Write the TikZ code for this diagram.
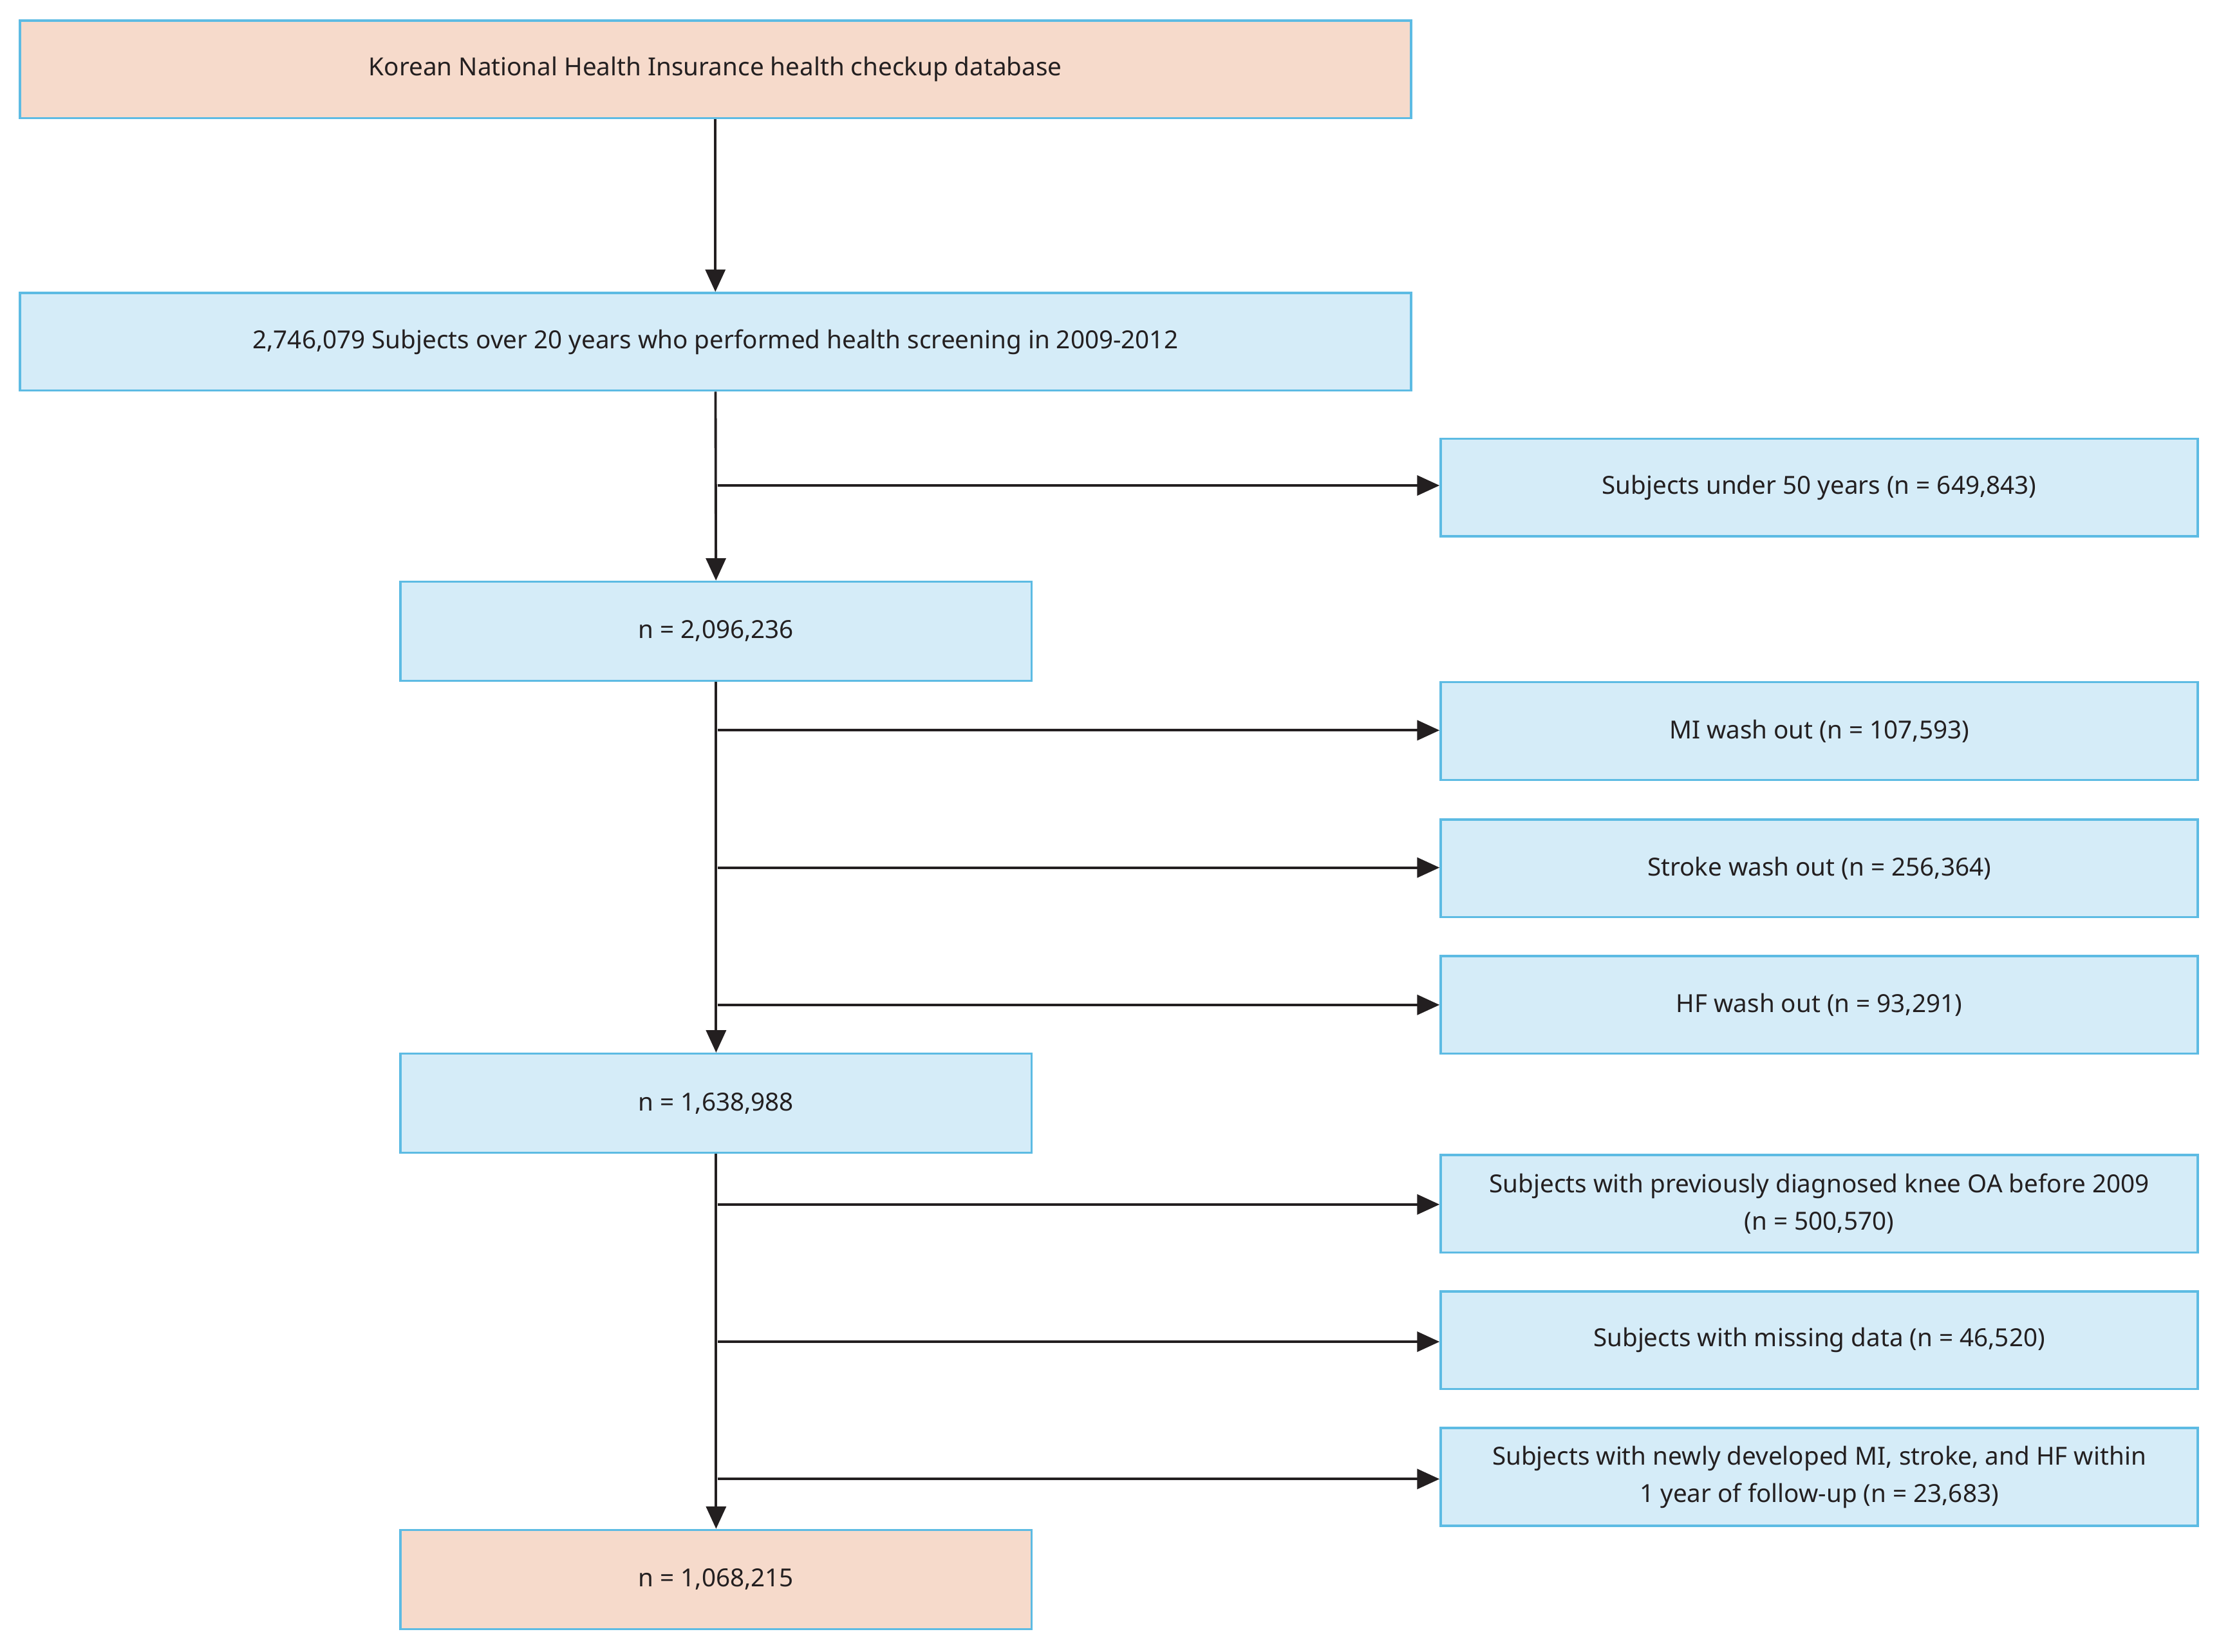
\documentclass[tikz,border=0pt]{standalone}
\usepackage{fontspec}
\setmainfont{Noto Sans}
\usetikzlibrary{arrows.meta}
\definecolor{peach}{HTML}{F6DACB}
\definecolor{lblue}{HTML}{D5ECF8}
\definecolor{bord}{HTML}{5DBBE3}
\definecolor{ink}{HTML}{231F20}
\begin{document}
\begin{tikzpicture}[x=0.02cm,y=-0.02cm,
 box/.style={draw=bord,line width=0.9pt,fill=lblue,inner sep=0pt,align=center,font=\fontsize{10}{15}\selectfont,text=ink},
 pbox/.style={box,fill=peach},
 wide/.style={minimum width=983*0.02cm,minimum height=69*0.02cm},
 mid/.style={minimum width=446*0.02cm,minimum height=70*0.02cm},
 side/.style={minimum width=535*0.02cm,minimum height=69*0.02cm},
 arr/.style={draw=ink,line width=1pt,-{Triangle[length=9pt,width=8pt]}}]
\useasboundingbox (0,0) rectangle (1568,1167);
\node[pbox,wide] (a) at (505.5,49) {Korean National Health Insurance health checkup database};
\node[box,wide] (b) at (505.5,241.5) {2,746,079 Subjects over 20 years who performed health screening in 2009-2012};
\node[box,mid] (c) at (506,446) {n = 2,096,236};
\node[box,mid] (d) at (506,779.5) {n = 1,638,988};
\node[pbox,mid] (e) at (506,1116) {n = 1,068,215};
\node[box,side] (r1) at (1285.5,344.5) {Subjects under 50 years (n = 649,843)};
\node[box,side] (r2) at (1285.5,516.5) {MI wash out (n = 107,593)};
\node[box,side] (r3) at (1285.5,613.5) {Stroke wash out (n = 256,364)};
\node[box,side] (r4) at (1285.5,710) {HF wash out (n = 93,291)};
\node[box,side] (r5) at (1285.5,850.5) {Subjects with previously diagnosed knee OA before 2009\\(n = 500,570)};
\node[box,side] (r6) at (1285.5,947) {Subjects with missing data (n = 46,520)};
\node[box,side] (r7) at (1285.5,1043.5) {Subjects with newly developed MI, stroke, and HF within\\1 year of follow-up (n = 23,683)};
\draw[arr] (a) -- (b);
\draw[arr] (b) -- (c);
\draw[arr] (c) -- (d);
\draw[arr] (d) -- (e);
\foreach \r/\y in {r1/343,r2/516,r3/613,r4/710,r5/851,r6/948,r7/1045}{
  \coordinate (s\r) at (507,\y);
  \draw[arr] (s\r) -- (\r.west |- s\r);
}
\end{tikzpicture}
\end{document}
